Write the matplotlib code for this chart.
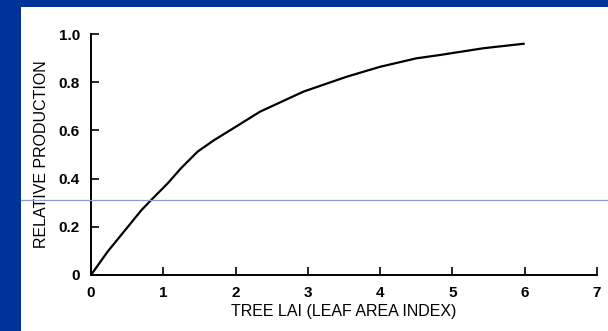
import matplotlib
matplotlib.use("Agg")
import matplotlib.pyplot as plt
from matplotlib.patches import Rectangle
from matplotlib.lines import Line2D

plt.rcParams["font.family"] = ["Liberation Sans", "DejaVu Sans"]

# Relative production vs tree leaf area index
lai = [0, 0.23, 0.51, 0.70, 0.855, 1.06, 1.245, 1.475, 1.705, 1.97, 2.34,
       2.94, 3.54, 4.0, 4.5, 4.83, 5.43, 6.0]
production = [0, 0.097, 0.2, 0.27, 0.318, 0.38, 0.443, 0.512, 0.56, 0.609,
              0.678, 0.761, 0.823, 0.864, 0.899, 0.913, 0.941, 0.96]

xticks = [0, 1, 2, 3, 4, 5, 6, 7]
yticks = [0, 0.2, 0.4, 0.6, 0.8, 1.0]
ytick_labels = ["0", "0.2", "0.4", "0.6", "0.8", "1.0"]

W, H = 608, 331
fig = plt.figure(figsize=(W / 100, H / 100), dpi=100)
fig.patch.set_facecolor("#003399")

# white slide panel
fig.patches.append(Rectangle((21 / W, 0), 1 - 21 / W, 1 - 7 / H,
                             transform=fig.transFigure, facecolor="white",
                             edgecolor="none", zorder=-5))

ax = fig.add_axes([91 / W, (H - 275) / H, (597 - 91) / W, (275 - 34) / H])
ax.set_zorder(2)
ax.set_facecolor("none")
ax.plot(lai, production, color="black", linewidth=1.6, solid_capstyle="butt",
        solid_joinstyle="round", clip_on=False)

ax.set_xlim(0, 7)
ax.set_ylim(0, 1.0)
ax.set_xticks(xticks)
ax.set_yticks(yticks)
ax.set_yticklabels(ytick_labels)
for s in ["top", "right"]:
    ax.spines[s].set_visible(False)
for s in ["left", "bottom"]:
    ax.spines[s].set_linewidth(1.4)
ax.tick_params(direction="in", length=6, width=1.2, pad=8, labelsize=11)
for lab in ax.get_xticklabels() + ax.get_yticklabels():
    lab.set_fontweight("bold")

ax.set_xlabel("TREE LAI (LEAF AREA INDEX)", fontsize=11.5, labelpad=3)
ax.set_ylabel("RELATIVE PRODUCTION", fontsize=11.5, labelpad=7)

# thin rule across the slide
fig.lines.append(Line2D([21 / W, 1], [(H - 199.5) / H] * 2,
                        transform=fig.transFigure, color="#8b9bd0",
                        linewidth=0.9, zorder=5))

fig.savefig("out.png", dpi=100, facecolor=fig.get_facecolor())
